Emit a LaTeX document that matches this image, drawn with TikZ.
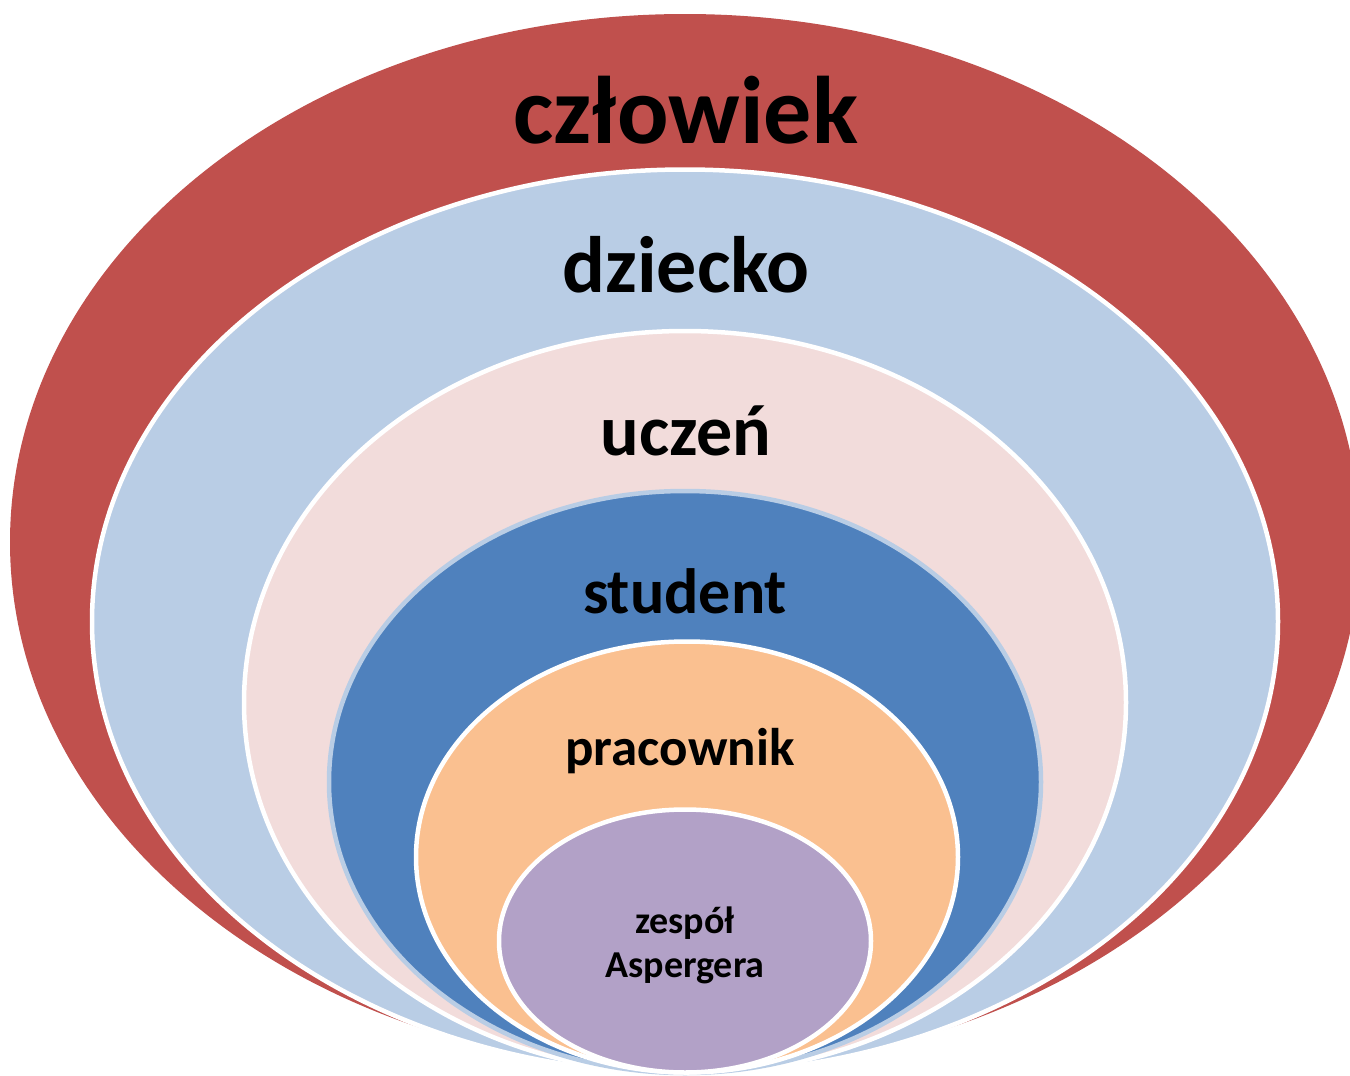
\documentclass[tikz,border=0pt]{standalone}
\usepackage{fontspec}
\setmainfont{Carlito}
\definecolor{cRed}{HTML}{C0504D}
\definecolor{cLightBlue}{HTML}{B9CDE5}
\definecolor{cPink}{HTML}{F2DCDB}
\definecolor{cBlue}{HTML}{4F81BD}
\definecolor{cOrange}{HTML}{FAC090}
\definecolor{cPurple}{HTML}{B2A1C7}
\tikzset{
  layer/.style={line width=4.5pt, draw=white},
  lbl/.style={anchor=base, inner sep=0pt, text=black, font=\bfseries\fontsize{#1}{#1}\selectfont},
}
\begin{document}
\begin{tikzpicture}[x=1pt,y=-1pt]
  \useasboundingbox (0,0) rectangle (1350,1076);
  \clip (0,0) rectangle (1350,1076);
  \fill[white] (0,0) rectangle (1350,1076);
  % outer red
  \fill[cRed] (685,542) ellipse [x radius=675, y radius=528];
  % light blue
  \path[layer, fill=cLightBlue] (685,621.5) ellipse [x radius=593, y radius=452];
  % pink
  \path[layer, fill=cPink] (685,702.5) ellipse [x radius=441, y radius=371.5];
  % blue
  \path[layer, draw=cLightBlue, fill=cBlue] (685,782) ellipse [x radius=356, y radius=291];
  % orange
  \path[layer, fill=cOrange] (687,857) ellipse [x radius=271, y radius=215.5];
  % purple
  \path[layer, fill=cPurple] (685,941) ellipse [x radius=186, y radius=131.5];

  \node[lbl=96] (czlowiek) at (686,143) {człowiek};
  \node[lbl=80] (dziecko) at (686,292) {dziecko};
  \node[lbl=72] (uczen) at (686,455) {uczeń};
  \node[lbl=64] (student) at (685,613) {student};
  \node[lbl=53] (pracownik) at (680,765) {pracownik};
  \node[anchor=base, inner sep=0pt, align=center, font=\bfseries\fontsize{38}{44}\selectfont] (zespol) at (685,977) {zespół\\Aspergera};
\end{tikzpicture}
\end{document}
